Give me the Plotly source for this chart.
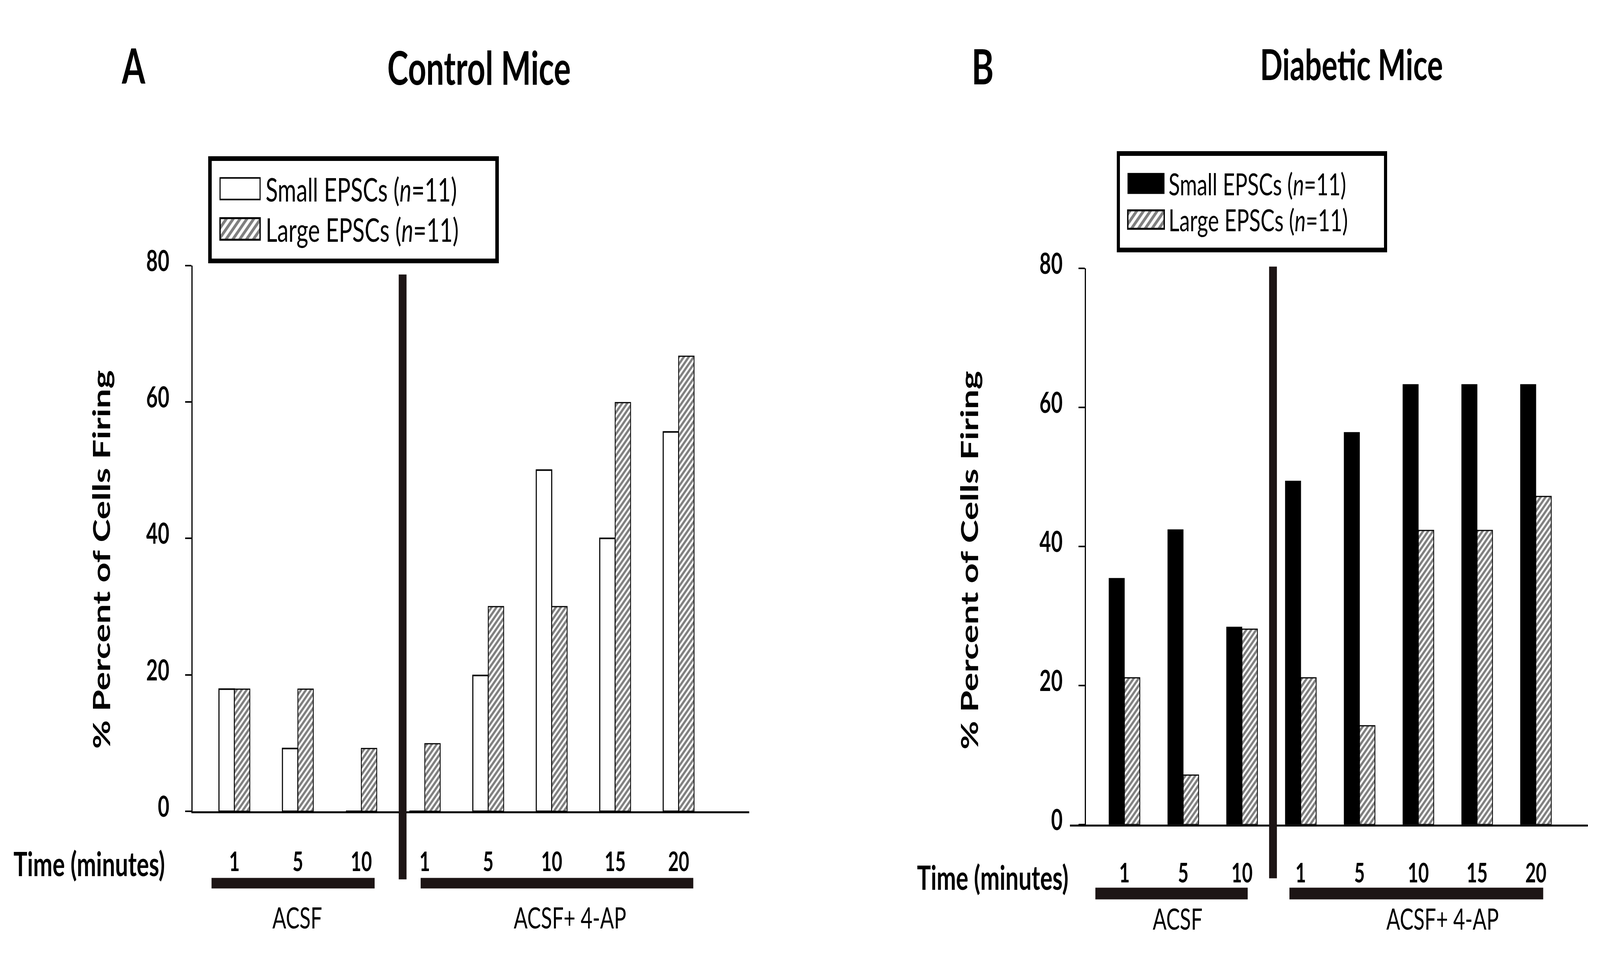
import plotly.graph_objects as go

W, H = 5945, 2450

# ---------------- data ----------------
time_labels = ["1", "5", "10", "1", "5", "10", "15", "20"]
y_ticks = [0, 20, 40, 60, 80]
control_small = [17.9, 9.2, 0, 0, 19.9, 50.0, 40.0, 55.6]
control_large = [17.9, 17.9, 9.2, 9.9, 30.0, 30.0, 59.9, 66.7]
diabetic_small = [35.4, 42.4, 28.4, 49.4, 56.4, 63.3, 63.3, 63.3]
diabetic_large = [21.1, 7.1, 28.1, 21.1, 14.2, 42.3, 42.3, 47.2]
legend_labels = ["Small EPSCs (<i>n</i>=11)", "Large EPSCs (<i>n</i>=11)"]
positions = list(range(len(time_labels)))

# ---------------- style ----------------
FONT = "Lato, 'Open Sans', sans-serif"
YFONT = "Lato, sans-serif"
HATCH = dict(shape="/", fgcolor="black", bgcolor="white", size=13, solidity=0.55)
HATCH_LEG = dict(shape="/", fgcolor="black", bgcolor="white", size=18, solidity=0.5)
DARK = "#1d1515"


def px(x):
    return x / W


def py(y):
    return 1 - y / H


fig = go.Figure()

wA = 0.243
fig.add_trace(go.Bar(x=positions, y=control_small, width=wA, offset=-wA,
                     marker=dict(color="white", line=dict(color="black", width=4)),
                     xaxis="x", yaxis="y", showlegend=False))
fig.add_trace(go.Bar(x=positions, y=control_large, width=wA, offset=0,
                     marker=dict(color="white", pattern=HATCH, line=dict(color="black", width=3)),
                     xaxis="x", yaxis="y", showlegend=False))
wB = 0.262
fig.add_trace(go.Bar(x=positions, y=diabetic_small, width=wB, offset=-wB,
                     marker=dict(color="black", line=dict(color="black", width=2)),
                     xaxis="x2", yaxis="y2", showlegend=False))
fig.add_trace(go.Bar(x=positions, y=diabetic_large, width=wB, offset=0,
                     marker=dict(color="white", pattern=HATCH, line=dict(color="black", width=3)),
                     xaxis="x2", yaxis="y2", showlegend=False))

# legend swatches inside dedicated legend frames
sw_rows = [0.715, 0.304]
fig.add_trace(go.Bar(y=[sw_rows[0]], x=[0.141], base=[0.030], width=0.22, orientation="h",
                     marker=dict(color="white", line=dict(color="black", width=4)),
                     xaxis="x3", yaxis="y3", showlegend=False))
fig.add_trace(go.Bar(y=[sw_rows[1]], x=[0.141], base=[0.030], width=0.22, orientation="h",
                     marker=dict(color="white", pattern=HATCH_LEG, line=dict(color="black", width=5)),
                     xaxis="x3", yaxis="y3", showlegend=False))
fig.add_trace(go.Bar(y=[0.70], x=[0.138], base=[0.030], width=0.22, orientation="h",
                     marker=dict(color="black", line=dict(color="black", width=2)),
                     xaxis="x4", yaxis="y4", showlegend=False))
fig.add_trace(go.Bar(y=[0.307], x=[0.138], base=[0.030], width=0.2, orientation="h",
                     marker=dict(color="white", pattern=HATCH_LEG, line=dict(color="black", width=5)),
                     xaxis="x4", yaxis="y4", showlegend=False))

xcommon = dict(tickvals=positions, ticktext=time_labels, showline=True, linecolor="black",
               linewidth=5, ticks="", showgrid=False, zeroline=False, ticklabelstandoff=66,
               tickfont=dict(family=FONT, size=68, color="black", weight="bold"))
ycommon = dict(range=[0, 80], tickvals=y_ticks, showline=True, linecolor="black", linewidth=5,
               ticks="outside", ticklen=23, tickwidth=4, tickcolor="black", showgrid=False,
               zeroline=False, ticklabelstandoff=44, ticklabelshift=-12,
               tickfont=dict(family=FONT, size=74, color="black", weight="bold"))
frame = dict(range=[0, 1], showline=True, mirror=True, linecolor="black", linewidth=12,
             showticklabels=False, ticks="", showgrid=False, zeroline=False, fixedrange=True)

fig.update_layout(
    width=W, height=H, autosize=False,
    margin=dict(l=0, r=0, t=0, b=0),
    paper_bgcolor="white", plot_bgcolor="rgba(0,0,0,0)",
    barmode="overlay", showlegend=False,
    xaxis=dict(xcommon, domain=[px(716), px(2784)], range=[-0.657, 8.113], anchor="y"),
    yaxis=dict(ycommon, domain=[py(2094), py(644)], anchor="x"),
    xaxis2=dict(xcommon, domain=[px(3975), px(5900)], range=[-0.929, 7.885], anchor="y2",
                ticklabelstandoff=62),
    yaxis2=dict(ycommon, domain=[py(2129), py(652)], anchor="free", position=px(4032)),
    xaxis3=dict(frame, domain=[px(786), px(1841)], anchor="y3"),
    yaxis3=dict(frame, domain=[py(626), py(366)], anchor="x3"),
    xaxis4=dict(frame, domain=[px(4161), px(5142)], anchor="y4"),
    yaxis4=dict(frame, domain=[py(597), py(353)], anchor="x4"),
)

# decorations: treatment dividers and treatment-period bars
shapes = []
for xc, y0, y1 in [(1496, 668, 2275), (4730, 647, 2272)]:
    shapes.append(dict(type="line", xref="paper", yref="paper", x0=px(xc), x1=px(xc),
                       y0=py(y1), y1=py(y0), line=dict(color=DARK, width=29), layer="above"))
for x0, x1, y0, y1 in [(786, 1392, 2271, 2299), (1563, 2576, 2271, 2299),
                       (4070, 4636, 2297, 2328), (4791, 5734, 2297, 2328)]:
    shapes.append(dict(type="rect", xref="paper", yref="paper", x0=px(x0), x1=px(x1),
                       y0=py(y1), y1=py(y0), fillcolor=DARK, line=dict(width=0)))
fig.update_layout(shapes=shapes)

ann = []


def text(x, y, s, size, bold=False, family=FONT, angle=0, xanchor="center", xref="paper", yref="paper"):
    ann.append(dict(x=x, y=y, xref=xref, yref=yref, text=s, showarrow=False, textangle=angle,
                    xanchor=xanchor, yanchor="middle",
                    font=dict(family=family, size=size, color="black", weight="bold" if bold else "normal")))


text(px(496), py(111), "A", 125, True)
text(px(1780), py(117), "Control Mice", 118, True)
text(px(3651), py(113), "B", 125, True)
text(px(5022), py(107), "Diabetic Mice", 110, True)
text(px(374), py(1425), "% Percent of Cells Firing", 90, True, YFONT, -90)
text(px(3600), py(1427), "% Percent of Cells Firing", 90, True, YFONT, -90)
text(px(331), py(2232), "Time (minutes)", 86, True)
text(px(3688), py(2268), "Time (minutes)", 86, True)
text(px(1104), py(2375), "ACSF", 76)
text(px(2118), py(2375), "ACSF+ 4-AP", 76)
text(px(4375), py(2378), "ACSF", 76)
text(px(5360), py(2378), "ACSF+ 4-AP", 76)
for r, lab in zip(sw_rows, legend_labels):
    text(0.189, r, lab, 84, False, FONT, 0, "left", "x3", "y3")
for r, lab in zip([0.70, 0.307], legend_labels):
    text(0.182, r, lab, 78, False, FONT, 0, "left", "x4", "y4")
fig.update_layout(annotations=ann)

# fit the 5945x2450 figure into whatever viewport the browser really provides
post = """
document.documentElement.style.overflow = 'hidden';
document.body.style.margin = '0';
document.body.style.overflow = 'hidden';
var gd = document.getElementById('{plot_id}');
var sx = window.innerWidth / %d, sy = window.innerHeight / %d;
gd.style.transformOrigin = '0 0';
gd.style.transform = 'scale(' + sx + ',' + sy + ')';
""" % (W, H)
fig.write_html("out.html", post_script=post, config={"displayModeBar": False})
